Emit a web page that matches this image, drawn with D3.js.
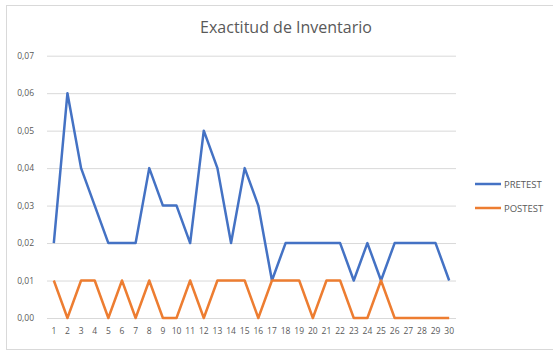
<!DOCTYPE html>
<html><head><meta charset="utf-8">
<script src="https://cdn.jsdelivr.net/npm/d3@7/dist/d3.min.js"></script>
<style>body{margin:0;background:#fff}svg{display:block}</style>
</head><body>
<script>
const categories = d3.range(1, 31).map(String);
const pretest = [0.02,0.06,0.04,0.03,0.02,0.02,0.02,0.04,0.03,0.03,0.02,0.05,0.04,0.02,0.04,0.03,0.01,0.02,0.02,0.02,0.02,0.02,0.01,0.02,0.01,0.02,0.02,0.02,0.02,0.01];
const postest = [0.01,0,0.01,0.01,0,0.01,0,0.01,0,0,0.01,0,0.01,0.01,0.01,0,0.01,0.01,0.01,0,0.01,0.01,0,0,0.01,0,0,0,0,0];
const yTicks = [0,0.01,0.02,0.03,0.04,0.05,0.06,0.07];
const series = [{name:"PRETEST", values:pretest, color:"#4472C4"},{name:"POSTEST", values:postest, color:"#ED7D31"}];

const W = 553, H = 351;
const svg = d3.select("body").append("svg").attr("width", W).attr("height", H);
svg.append("rect").attr("x",6.5).attr("y",5.5).attr("width",W).attr("height",344)
  .attr("fill","none").attr("stroke","#d9d9d9").attr("stroke-width",1);

const x = d3.scaleBand().domain(categories).range([47, 456]);
const y = d3.scaleLinear().domain([0, 0.07]).range([318, 55.7]);

svg.append("text").attr("x", 286).attr("y", 33).attr("text-anchor","middle")
  .attr("font-family","'Open Sans', sans-serif").attr("font-size",16).attr("fill","#595959")
  .text("Exactitud de Inventario");

const fmt = d => d3.format(".2f")(d).replace(".", ",");
const gy = svg.append("g").attr("transform","translate(47,0)")
  .call(d3.axisLeft(y).tickValues(yTicks).tickFormat(fmt).tickSize(-409).tickPadding(13));
gy.select(".domain").remove();
gy.selectAll("line").attr("stroke","#d9d9d9").attr("stroke-width",1);
gy.selectAll("text").attr("font-family","'Open Sans', sans-serif").attr("font-size",8.5).attr("fill","#595959");

const gx = svg.append("g").attr("transform","translate(0,318)")
  .call(d3.axisBottom(x).tickSize(0).tickPadding(10));
gx.select(".domain").remove();
gx.selectAll("text").attr("font-family","'Open Sans', sans-serif").attr("font-size",8.5).attr("fill","#595959");

const line = d3.line().x((d,i) => x(categories[i]) + x.bandwidth()/2).y(d => y(d));
series.forEach(s => {
  svg.append("path").datum(s.values).attr("d", line).attr("fill","none")
    .attr("stroke", s.color).attr("stroke-width", 2.5).attr("stroke-linejoin","round");
});

const leg = svg.append("g");
series.forEach((s,i) => {
  const ly = 184 + i*24;
  leg.append("line").attr("x1",475).attr("x2",501).attr("y1",ly).attr("y2",ly)
    .attr("stroke", s.color).attr("stroke-width",2.5);
  leg.append("text").attr("x",504).attr("y",ly+3.5).attr("font-family","'Open Sans', sans-serif")
    .attr("font-size",9.5).attr("fill","#595959").text(s.name);
});
</script>
</body></html>
